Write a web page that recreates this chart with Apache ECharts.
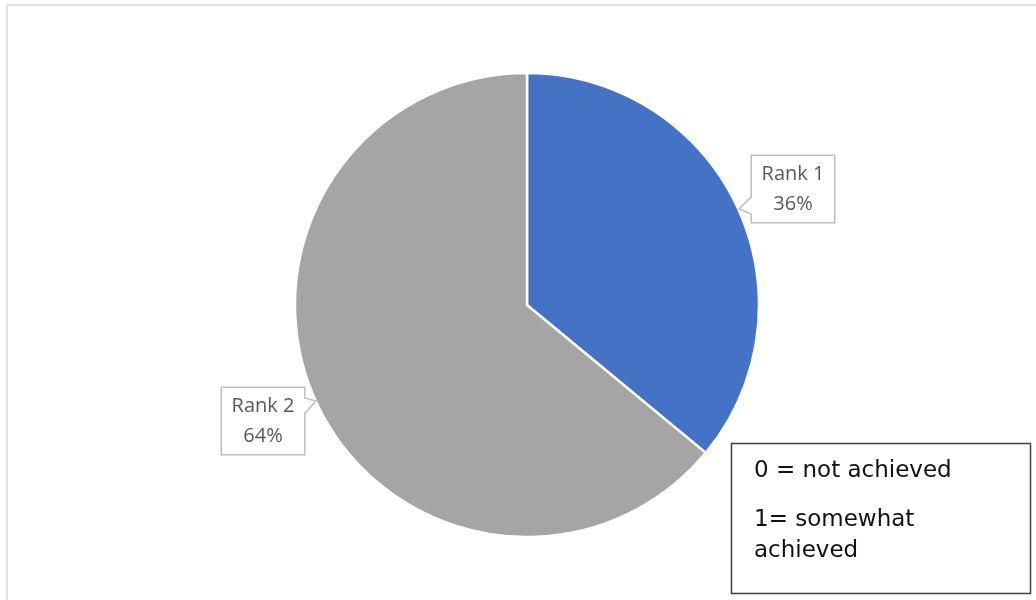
<!DOCTYPE html>
<html>
<head>
<meta charset="utf-8">
<script src="https://cdn.jsdelivr.net/npm/echarts@6/dist/echarts.min.js"></script>
<style>html,body{margin:0;padding:0;background:#fff;}#c{width:1036px;height:600px;}</style>
</head>
<body>
<div id="c"></div>
<script>
const categories = ['Rank 1', 'Rank 2'];
const values = [36, 64];
const noteLines = ['0 = not achieved', '1= somewhat', 'achieved'];

const chart = echarts.init(document.getElementById('c'));
const labelPos = [[793, 189], [263, 421]];
const labelFont = '"Open Sans", "Liberation Sans", sans-serif';
const noteFont = '"DejaVu Sans", sans-serif';
const gray = '#BFBFBF';

chart.setOption({
  animation: false,
  backgroundColor: '#fff',
  series: [{
    type: 'pie',
    center: [527, 305],
    radius: 232,
    startAngle: 90,
    clockwise: true,
    data: categories.map((c, i) => ({ name: c, value: values[i] })),
    itemStyle: { borderColor: '#fff', borderWidth: 2.5 },
    color: ['#4472C4', '#A5A5A5'],
    label: {
      show: true,
      position: 'outside',
      formatter: p => p.name + '\n' + p.value + '%',
      fontFamily: labelFont,
      fontSize: 20,
      color: '#595959',
      lineHeight: 30,
      align: 'center',
      backgroundColor: '#fff',
      borderColor: gray,
      borderWidth: 1.5,
      padding: [6, 8, 0, 8],
      width: 66
    },
    labelLine: { show: false },
    labelLayout: p => ({ x: labelPos[p.dataIndex][0], y: labelPos[p.dataIndex][1], align: 'center', verticalAlign: 'middle' }),
    emphasis: { disabled: true }
  }],
  graphic: [
    { type: 'rect', z: 0, silent: true, shape: { x: 7, y: 5, width: 1050, height: 620 }, style: { fill: 'none', stroke: '#D9D9D9', lineWidth: 1.5 } },
    { type: 'polygon', z: 100, shape: { points: [[752.5, 197], [739, 209], [752.5, 214]] }, style: { fill: '#fff', stroke: null } },
    { type: 'polyline', z: 101, shape: { points: [[751, 197], [739, 209], [751, 214]] }, style: { stroke: gray, lineWidth: 1.5, fill: null } },
    { type: 'polygon', z: 100, shape: { points: [[303, 398], [316, 401], [303, 414]] }, style: { fill: '#fff', stroke: null } },
    { type: 'polyline', z: 101, shape: { points: [[304.5, 398], [316, 401], [304.5, 414]] }, style: { stroke: gray, lineWidth: 1.5, fill: null } },
    { type: 'rect', z: 100, shape: { x: 731.5, y: 443.5, width: 299, height: 150 }, style: { fill: '#fff', stroke: '#404040', lineWidth: 1.5 } },
    { type: 'text', z: 101, style: { x: 754, y: 471, text: noteLines[0], font: '23px ' + noteFont, fill: '#111', verticalAlign: 'middle' } },
    { type: 'text', z: 101, style: { x: 754, y: 520, text: noteLines[1], font: '23px ' + noteFont, fill: '#111', verticalAlign: 'middle' } },
    { type: 'text', z: 101, style: { x: 754, y: 551, text: noteLines[2], font: '23px ' + noteFont, fill: '#111', verticalAlign: 'middle' } }
  ]
});
</script>
</body>
</html>
